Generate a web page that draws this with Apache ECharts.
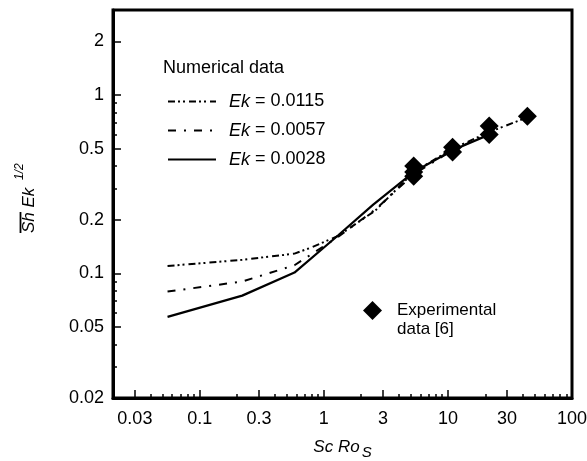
<!DOCTYPE html>
<html><head><meta charset="utf-8">
<script src="https://cdn.jsdelivr.net/npm/echarts@6/dist/echarts.min.js"></script>
<style>html,body{margin:0;padding:0;background:#fff}#c{width:587px;height:461px}</style>
</head><body><div id="c"></div>
<script>
// ---- data ----
const xMajorTicks = [0.03, 0.1, 0.3, 1, 3, 10, 30, 100];
const xTickLabels = ['0.03', '0.1', '0.3', '1', '3', '10', '30', '100'];
const xMinorTicks = [0.04,0.05,0.06,0.07,0.08,0.09,0.2,0.4,0.5,0.6,0.7,0.8,0.9,2,4,5,6,7,8,9,20,40,50,60,70,80,90];
const yMajorTicks = [0.02, 0.05, 0.1, 0.2, 0.5, 1, 2];
const yTickLabels = ['0.02', '0.05', '0.1', '0.2', '0.5', '1', '2'];
const yMinorTicks = [0.03,0.04,0.06,0.07,0.08,0.09,0.3,0.4,0.6,0.7,0.8,0.9];
const seriesNames = ['Ek = 0.0115', 'Ek = 0.0057', 'Ek = 0.0028'];
const expName = 'Experimental data [6]';
const ek0115 = [[0.055,0.110],[0.22,0.119],[0.58,0.129],[0.8,0.140],[1.3,0.162],[2.6,0.225],[5.3,0.37],[10.9,0.50],[21.5,0.62],[43.7,0.75]];
const ek0057 = [[0.055,0.079],[0.22,0.090],[0.58,0.111],[1.3,0.160],[2.6,0.228],[5.3,0.36],[10.9,0.49],[21.5,0.61]];
const ek0028 = [[0.055,0.057],[0.22,0.075],[0.58,0.101],[1.3,0.163],[2.5,0.243],[5.3,0.37],[10.9,0.49],[21.5,0.60]];
const experimental = [[5.3,0.40],[5.3,0.37],[5.3,0.35],[10.9,0.51],[10.9,0.48],[21.5,0.67],[21.5,0.60],[43.7,0.76]];

// ---- chart ----
const FONT = '"Liberation Sans", Arial, Helvetica, sans-serif';
const chart = echarts.init(document.getElementById('c'), null, {renderer: 'canvas'});
function labelFor(v, ticks, labels) {
  let best = 0, bd = Infinity;
  ticks.forEach((t, i) => { const d = Math.abs(Math.log10(t) - Math.log10(v)); if (d < bd) { bd = d; best = i; } });
  return labels[best];
}
const axisCommon = {
  type: 'log', logBase: 10,
  splitLine: {show: false}, minorSplitLine: {show: false}
};
const option = {
  animation: false,
  backgroundColor: '#fff',
  textStyle: {fontFamily: FONT, color: '#000'},
  grid: {left: 113, right: 15, top: 10, bottom: 63, show: true, borderColor: '#000', borderWidth: 3,
         containLabel: false, outerBoundsMode: 'none'},
  title: {text: 'Numerical data', left: 163, top: 59, padding: 0,
          textStyle: {fontSize: 18, fontWeight: 'normal', color: '#000', fontFamily: FONT}},
  legend: [
    {data: seriesNames, orient: 'vertical', left: 167, top: 92, padding: 0,
     itemWidth: 48, itemHeight: 14, itemGap: 10,
     itemStyle: {opacity: 0, borderWidth: 0},
     formatter: n => n.replace('Ek', '{i|Ek}'),
     textStyle: {fontSize: 18, lineHeight: 19, color: '#000', fontFamily: FONT, padding: [0, 0, 0, 8],
                 rich: {i: {fontStyle: 'italic', fontSize: 18, lineHeight: 19, fontFamily: FONT}}}},
    {data: [expName], left: 363, top: 282, padding: 0, itemWidth: 19, itemHeight: 19,
     formatter: n => '\n' + n.replace(' ', '\n'),
     itemStyle: {opacity: 1, color: '#000'},
     textStyle: {fontSize: 17, lineHeight: 19, color: '#000', fontFamily: FONT, padding: [0, 0, 0, 10]}}
  ],
  xAxis: [
    Object.assign({}, axisCommon, {
      min: 0.01999, max: 100.01, position: 'bottom',
      axisLine: {show: true, lineStyle: {color: '#000', width: 3}},
      axisTick: {show: true, inside: true, length: 8, customValues: xMajorTicks, lineStyle: {color: '#000', width: 1.5}},
      axisLabel: {show: true, customValues: xMajorTicks, margin: 12, fontSize: 18, color: '#000', fontFamily: FONT,
                  formatter: v => labelFor(v, xMajorTicks, xTickLabels)},
      name: '{i|Sc Ro}{s|S}', nameLocation: 'middle', nameGap: 39,
      nameTextStyle: {rich: {
        i: {fontStyle: 'italic', fontSize: 17, lineHeight: 20, fontFamily: FONT, color: '#000'},
        s: {fontStyle: 'italic', fontSize: 15, lineHeight: 20, fontFamily: FONT, color: '#000', padding: [12, 0, 0, 2]}}}
    }),
    Object.assign({}, axisCommon, {
      min: 0.01999, max: 100.01, position: 'bottom',
      axisLine: {show: false},
      axisTick: {show: true, inside: true, length: 4, customValues: xMinorTicks, lineStyle: {color: '#000', width: 1.5}},
      axisLabel: {show: false}
    })
  ],
  yAxis: [
    Object.assign({}, axisCommon, {
      min: 0.01999, max: 3.0, position: 'left',
      axisLine: {show: true, lineStyle: {color: '#000', width: 3}},
      axisTick: {show: true, inside: true, length: 8, customValues: yMajorTicks, lineStyle: {color: '#000', width: 1.5}},
      axisLabel: {show: true, customValues: yMajorTicks, margin: 9, fontSize: 18, color: '#000', fontFamily: FONT,
                  formatter: v => labelFor(v, yMajorTicks, yTickLabels)}
    }),
    Object.assign({}, axisCommon, {
      min: 0.01999, max: 3.0, position: 'left',
      axisLine: {show: false},
      axisTick: {show: true, inside: true, length: 4, customValues: yMinorTicks, lineStyle: {color: '#000', width: 1.5}},
      axisLabel: {show: false}
    })
  ],
  graphic: [{
    type: 'group', x: 29, y: 233, rotation: Math.PI / 2, silent: true,
    children: [
      {type: 'text', x: 0, y: 0, style: {text: 'Sh Ek', fontSize: 17, fontStyle: 'italic', fontFamily: FONT,
        fill: '#000', verticalAlign: 'middle', align: 'left'}},
      {type: 'text', x: 53, y: -9, style: {text: '1/2', fontSize: 12, fontStyle: 'italic', fontFamily: FONT,
        fill: '#000', verticalAlign: 'middle', align: 'left'}},
      {type: 'line', shape: {x1: 0, y1: -8.5, x2: 21, y2: -8.5}, style: {stroke: '#000', lineWidth: 1.8}}
    ]
  }],
  series: [
    {name: seriesNames[0], type: 'line', data: ek0115, symbol: 'none', showSymbol: false,
     lineStyle: {color: '#000', width: 2, type: [7, 3, 2, 3, 2, 4]}, itemStyle: {color: '#000'}},
    {name: seriesNames[1], type: 'line', data: ek0057, symbol: 'none', showSymbol: false,
     lineStyle: {color: '#000', width: 2, type: [8, 8, 2, 8]}, itemStyle: {color: '#000'}},
    {name: seriesNames[2], type: 'line', data: ek0028, symbol: 'none', showSymbol: false,
     lineStyle: {color: '#000', width: 2.2, type: 'solid'}, itemStyle: {color: '#000'}},
    {name: expName, type: 'scatter', data: experimental, symbol: 'diamond', symbolSize: 19, z: 5,
     itemStyle: {color: '#000', opacity: 1}}
  ]
};
chart.setOption(option);
</script>
</body></html>
